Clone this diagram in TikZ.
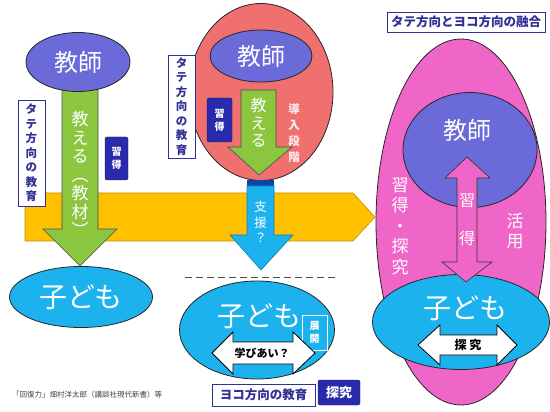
\documentclass[tikz,border=0pt]{standalone}
\usepackage{fontspec}
\setmainfont{Noto Sans CJK JP}
\usetikzlibrary{positioning, shapes.geometric, calc}

\definecolor{teacherblue}{RGB}{106,106,216}
\definecolor{childcyan}{RGB}{28,178,238}
\definecolor{teachgreen}{RGB}{140,198,63}
\definecolor{flowor}{RGB}{255,192,0}
\definecolor{introred}{RGB}{240,112,112}
\definecolor{fusionpink}{RGB}{240,102,200}
\definecolor{tagblue}{RGB}{42,42,172}
\definecolor{boxblue}{RGB}{48,48,150}

\begin{document}
\begin{tikzpicture}[x=1pt, y=-1pt,
        teacher/.style={ellipse, draw=black!85, fill=teacherblue, text=white, inner sep=0pt, line width=0.8pt, font=\fontsize{24}{26}\selectfont},
        child/.style={ellipse, draw=black!85, fill=childcyan, text=white, inner sep=0pt, line width=0.8pt, font=\fontsize{28}{30}\selectfont},
        blob/.style={ellipse, draw=black!85, inner sep=0pt, line width=0.8pt},
        vtext/.style={align=center, inner sep=0pt, text=white},
        tatebox/.style={rectangle, draw=boxblue, fill=white, text=boxblue, line width=0.8pt, inner sep=0pt, align=center, font=\fontsize{11.5}{14.5}\selectfont\bfseries},
        tag/.style={rectangle, draw=tagblue!60!black, fill=tagblue, text=white, rounded corners=2pt, inner sep=0pt, align=center, font=\fontsize{10}{13}\selectfont\bfseries},
        blockarrow/.style={draw=black!70, line width=0.6pt, line join=miter},
        whitearrow/.style={draw=black, fill=white, line width=0.8pt}
    ]
    \useasboundingbox (0,0) rectangle (550,412);

    % Horizontal flow (behind everything)
    \filldraw[fill=flowor, draw=flowor!75!black, line width=0.6pt] (25,193) -- (353,193) -- (375,217) -- (353,241) -- (25,241) -- cycle;

    % Left: vertical teaching
    \node[tatebox, minimum width=27pt, minimum height=106pt] (tateL) at (31.5,153) {タ\\テ\\方\\向\\の\\教\\育};
    \filldraw[blockarrow, fill=teachgreen] (62,88) -- (98,88) -- (98,229) -- (117,229) -- (80,266) -- (43,229) -- (62,229) -- cycle;
    \node[teacher, minimum width=104pt, minimum height=59pt] (teacherL) at (78,62) {教師};
    \node[vtext, font=\fontsize{17}{18.5}\selectfont] (teachL) at (80,174) {教\\え\\る\\︵\\教\\材\\︶};
    \node[tag, minimum width=23pt, minimum height=43pt] (shuL) at (116.5,158.5) {習\\得};
    \node[child, minimum width=143pt, minimum height=61pt] (childL) at (81,297) {子ども};

    % Middle: introduction stage
    \node[blob, fill=introred, minimum width=144pt, minimum height=177pt] (intro) at (261,92) {};
    \node[teacher, minimum width=102pt, minimum height=52pt] (teacherM) at (261,56) {教師};
    \filldraw[blockarrow, fill=teachgreen] (241,90) -- (276,90) -- (276,147) -- (292,147) -- (259,175) -- (228,147) -- (241,147) -- cycle;
    \node[vtext, font=\fontsize{16}{17.5}\selectfont] (teachM) at (258.5,123) {教\\え\\る};
    \node[tag, minimum width=25pt, minimum height=44pt] (shuM) at (219.5,120) {習\\得};
    \node[vtext, text=white!85!introred, font=\fontsize{11.5}{16}\selectfont\bfseries] (dounyu) at (294,133) {導\\入\\段\\階};
    \node[tatebox, minimum width=27pt, minimum height=103pt] (tateM) at (181.5,106.5) {タ\\テ\\方\\向\\の\\教\\育};

    % Support arrow
    \fill[black!45!childcyan!70!blue] (247,180) rectangle (274,186);
    \filldraw[blockarrow, draw=childcyan!70!black, fill=childcyan] (247,186) -- (274,186) -- (274,235) -- (293,235) -- (261,270) -- (230,235) -- (247,235) -- cycle;
    \node[vtext, font=\fontsize{12.5}{15.5}\selectfont] (shien) at (260.5,222) {支\\援\\？};

    % Horizontal learning
    \coordinate (dashL) at (185,277);
    \coordinate (dashR) at (337,277);
    \draw[black!70, line width=1pt, dash pattern=on 7pt off 4pt] (dashL) -- (dashR);
    \node[child, minimum width=155pt, minimum height=98pt] (childM) at (257,330) {};
    \node[text=white, inner sep=0pt, font=\fontsize{28}{30}\selectfont] (childMtxt) at (259,316) {子ども};
    \node[tag, draw=white, fill=childcyan, rounded corners=0pt, line width=0.8pt, minimum width=25pt, minimum height=35pt, font=\fontsize{10}{13.5}\selectfont\bfseries] (tenkai) at (314.5,332.5) {展\\開};
    \filldraw[whitearrow] (212,353) -- (233,332) -- (233,342) -- (293,342) -- (293,332) -- (315,353) -- (293,374) -- (293,364) -- (233,364) -- (233,374) -- cycle;
    \node[inner sep=0pt, font=\fontsize{11}{13}\selectfont\bfseries] (manabi) at (262,353) {学びあい？};
    \node[tatebox, minimum width=103pt, minimum height=22pt, font=\fontsize{12.5}{14}\selectfont\bfseries] (yoko) at (263.5,395) {ヨコ方向の教育};
    \node[tag, minimum width=42pt, minimum height=25pt, font=\fontsize{13}{14}\selectfont\bfseries] (tankyuM) at (339,392.5) {探究};

    % Right: fusion of both directions
    \node[blob, fill=fusionpink, minimum width=170pt, minimum height=366pt] (fusion) at (461,222) {};
    \node[teacher, minimum width=134pt, minimum height=115pt] (teacherR) at (470,150) {};
    \node[text=white, inner sep=0pt, font=\fontsize{24}{26}\selectfont] (teacherRtxt) at (467,130) {教師};
    \node[child, minimum width=177pt, minimum height=95pt] (childR) at (461,322) {};
    \node[text=white, inner sep=0pt, font=\fontsize{28}{30}\selectfont] (childRtxt) at (465,308) {子ども};
    \filldraw[blockarrow, draw=black!80, fill=fusionpink] (467,157) -- (490,178) -- (477,178) -- (477,262) -- (492,262) -- (466,282) -- (442,262) -- (457,262) -- (457,178) -- (445,178) -- cycle;
    \node[vtext, font=\fontsize{16}{38}\selectfont] (shuR) at (467,220) {習\\得};
    \node[vtext, font=\fontsize{17}{20.5}\selectfont] (shutan) at (400,226) {習\\得\\・\\探\\究};
    \node[vtext, font=\fontsize{17}{20}\selectfont] (katsuyo) at (515,231) {活\\用};
    \filldraw[whitearrow] (418,345) -- (440,325) -- (440,335) -- (497,335) -- (497,325) -- (517,345) -- (497,365) -- (497,355) -- (440,355) -- (440,365) -- cycle;
    \node[inner sep=0pt, font=\fontsize{12}{13}\selectfont\bfseries] (tankyuR) at (468,345) {探\ 究};

    % Title and source
    \node[tatebox, minimum width=158pt, minimum height=20pt, font=\fontsize{12.5}{14}\selectfont\bfseries] (title) at (466,22) {タテ方向とヨコ方向の融合};
    \node[anchor=west, inner sep=0pt, text=black!75, font=\fontsize{7.5}{9}\selectfont] (source) at (12,395) {「回復力」畑村洋太郎（講談社現代新書）等};

\end{tikzpicture}
\end{document}
